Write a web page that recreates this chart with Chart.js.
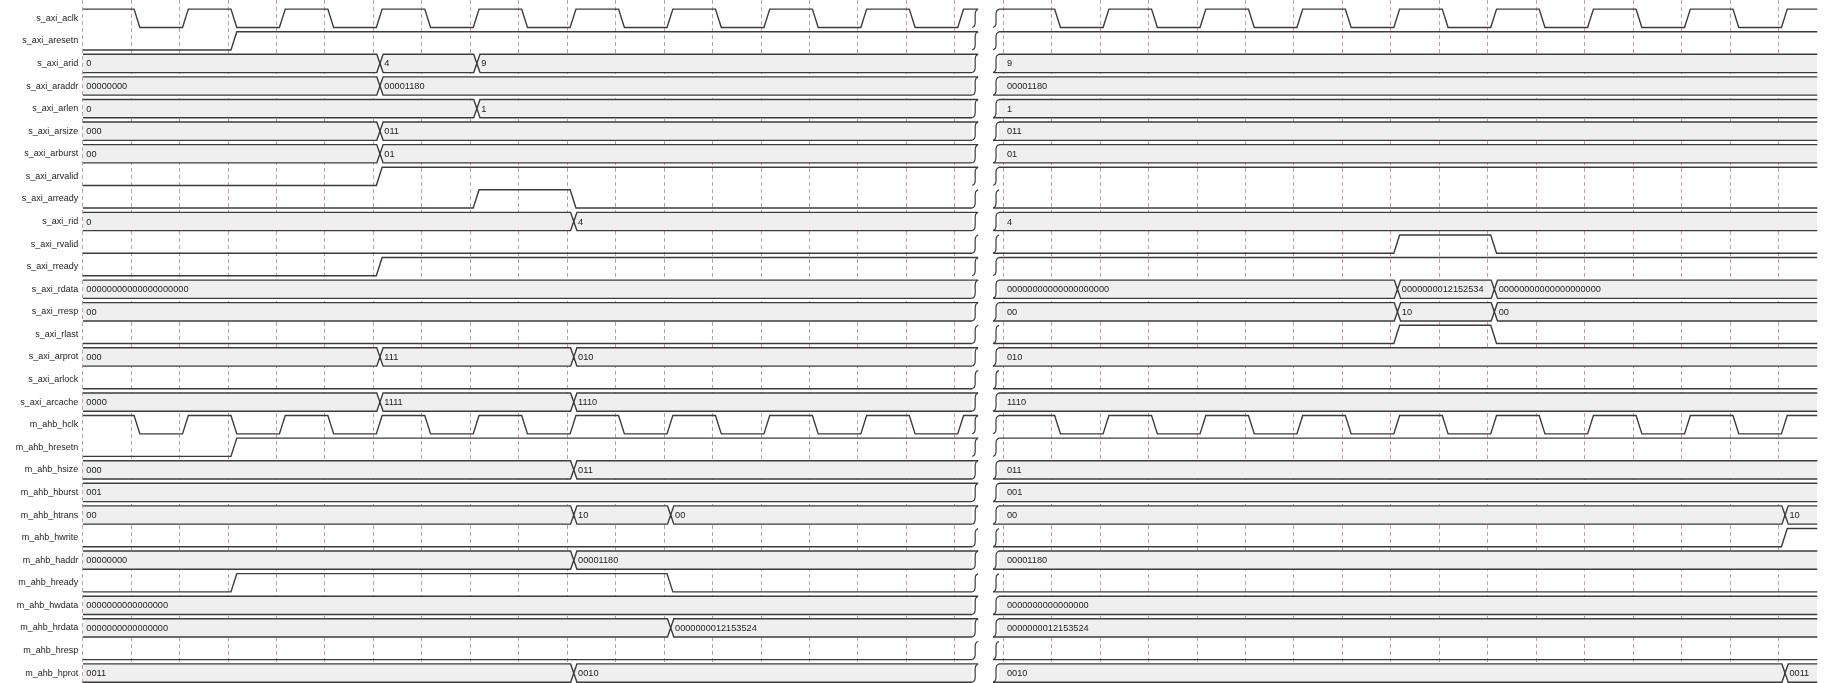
<!DOCTYPE html>
<html lang="en">
<head>
<meta charset="UTF-8">
<title>AXI to AHB read waveform</title>
<script src="https://cdn.jsdelivr.net/npm/chart.js"></script>
<style>
  html, body { margin: 0; padding: 0; background: #ffffff; }
  canvas { display: block; }
</style>
</head>
<body>
<canvas id="waveChart" width="1826" height="683"></canvas>
<script>
// signals, top to bottom
const signalNames = [
  's_axi_aclk', 's_axi_aresetn', 's_axi_arid', 's_axi_araddr', 's_axi_arlen',
  's_axi_arsize', 's_axi_arburst', 's_axi_arvalid', 's_axi_arready', 's_axi_rid',
  's_axi_rvalid', 's_axi_rready', 's_axi_rdata', 's_axi_rresp', 's_axi_rlast',
  's_axi_arprot', 's_axi_arlock', 's_axi_arcache', 'm_ahb_hclk', 'm_ahb_hresetn',
  'm_ahb_hsize', 'm_ahb_hburst', 'm_ahb_htrans', 'm_ahb_hwrite', 'm_ahb_haddr',
  'm_ahb_hready', 'm_ahb_hwdata', 'm_ahb_hrdata', 'm_ahb_hresp', 'm_ahb_hprot'
];
const signalTypes = [
  'clk', 'bit', 'bus', 'bus', 'bus',
  'bus', 'bus', 'bit', 'bit', 'bus',
  'bit', 'bit', 'bus', 'bus', 'bit',
  'bus', 'bit', 'bus', 'clk', 'bit',
  'bus', 'bus', 'bus', 'bit', 'bus',
  'bit', 'bus', 'bus', 'bit', 'bus'
];

// clock edges, time in half clock periods (one grid column)
const clockLeft = [[0,1],[1,0],[2,1],[3,0],[4,1],[5,0],[6,1],[7,0],[8,1],[9,0],
  [10,1],[11,0],[12,1],[13,0],[14,1],[15,0],[16,1],[17,0],[18,1]];
const clockRight = [[19,1],[20,0],[21,1],[22,0],[23,1],[24,0],[25,1],[26,0],[27,1],
  [28,0],[29,1],[30,0],[31,1],[32,0],[33,1],[34,0],[35,1]];

// [time, value] changes before the break
const leftWaves = [
  clockLeft,
  [[0,0],[3,1]],
  [[0,'0'],[6,'4'],[8,'9']],
  [[0,'00000000'],[6,'00001180']],
  [[0,'0'],[8,'1']],
  [[0,'000'],[6,'011']],
  [[0,'00'],[6,'01']],
  [[0,0],[6,1]],
  [[0,0],[8,1],[10,0]],
  [[0,'0'],[10,'4']],
  [[0,0]],
  [[0,0],[6,1]],
  [[0,'00000000000000000000']],
  [[0,'00']],
  [[0,0]],
  [[0,'000'],[6,'111'],[10,'010']],
  [[0,0]],
  [[0,'0000'],[6,'1111'],[10,'1110']],
  clockLeft,
  [[0,0],[3,1]],
  [[0,'000'],[10,'011']],
  [[0,'001']],
  [[0,'00'],[10,'10'],[12,'00']],
  [[0,0]],
  [[0,'00000000'],[10,'00001180']],
  [[0,0],[3,1],[12,0]],
  [[0,'0000000000000000']],
  [[0,'0000000000000000'],[12,'0000000012153524']],
  [[0,0]],
  [[0,'0011'],[10,'0010']]
];

// [time, value] changes after the break
const rightWaves = [
  clockRight,
  [[19,1]],
  [[19,'9']],
  [[19,'00001180']],
  [[19,'1']],
  [[19,'011']],
  [[19,'01']],
  [[19,1]],
  [[19,0]],
  [[19,'4']],
  [[19,0],[27,1],[29,0]],
  [[19,1]],
  [[19,'00000000000000000000'],[27,'0000000012152534'],[29,'00000000000000000000']],
  [[19,'00'],[27,'10'],[29,'00']],
  [[19,0],[27,1],[29,0]],
  [[19,'010']],
  [[19,0]],
  [[19,'1110']],
  clockRight,
  [[19,1]],
  [[19,'011']],
  [[19,'001']],
  [[19,'00'],[35,'10']],
  [[19,0],[35,1]],
  [[19,'00001180']],
  [[19,0]],
  [[19,'0000000000000000']],
  [[19,'0000000012153524']],
  [[19,0]],
  [[19,'0010'],[35,'0011']]
];

// the two visible time windows and the grid lines
const leftWindow = [0, 18.42];
const rightWindow = [18.85, 35.8];
const gridTimes = [0,1,2,3,4,5,6,7,8,9,10,11,12,13,14,15,16,17,18,
  19,20,21,22,23,24,25,26,27,28,29,30,31,32,33,34,35];

const LINE = '#3c3c3c';
const BUS_FILL = '#efefef';
const GRID = 'rgba(200, 104, 120, 0.7)';
const FONT = '"Liberation Sans", Arial, Helvetica, sans-serif';

const LV = 0.405;      // half height of a trace, in rows
const EDGE = 0.06;     // edge delay after grid line
const SLOPE = 0.12;    // edge width
const BUS_EDGE = 0.07;
const BUS_SLOPE = 0.13;
const CURL = 0.06;     // half width of the break mark

function bitLine(row, events, win, curlStart, curlEnd) {
  const lvl = v => v ? row - LV : row + LV;
  const cx = (x, v) => x + (v ? CURL : -CURL);
  let v = events[0][1];
  const pts = [{x: curlStart ? cx(win[0], v) : win[0], y: lvl(v)}];
  for (let i = 1; i < events.length; i++) {
    const t = events[i][0];
    pts.push({x: t + EDGE, y: lvl(v)});
    v = events[i][1];
    pts.push({x: t + EDGE + SLOPE, y: lvl(v)});
  }
  pts.push({x: curlEnd ? cx(win[1], v) : win[1], y: lvl(v)});
  return pts;
}

function busEdge(row, events, win, side, curlStart, curlEnd) {
  const y = row + side * LV;
  const off = side < 0 ? CURL : -CURL;
  const pts = [{x: curlStart ? win[0] + off : win[0], y: y}];
  for (let i = 1; i < events.length; i++) {
    const t = events[i][0];
    pts.push({x: t + BUS_EDGE, y: y});
    pts.push({x: t + BUS_EDGE + BUS_SLOPE / 2, y: row});
    pts.push({x: t + BUS_EDGE + BUS_SLOPE, y: y});
  }
  pts.push({x: curlEnd ? win[1] + off : win[1], y: y});
  return pts;
}

// integral-sign shaped break mark
function curlMark(row, x) {
  return [
    {x: x + CURL, y: row - LV},
    {x: x + CURL * 0.2, y: row - LV * 0.78},
    {x: x, y: row - LV * 0.3},
    {x: x, y: row + LV * 0.3},
    {x: x - CURL * 0.2, y: row + LV * 0.78},
    {x: x - CURL, y: row + LV}
  ];
}

const base = {borderColor: LINE, borderWidth: 1.4, pointRadius: 0, tension: 0, fill: false, order: 1};
const datasets = [];

signalTypes.forEach((type, row) => {
  const parts = [
    {events: leftWaves[row], win: leftWindow, cs: false, ce: true},
    {events: rightWaves[row], win: rightWindow, cs: true, ce: false}
  ];
  parts.forEach(p => {
    if (type === 'bus') {
      datasets.push({...base, data: busEdge(row, p.events, p.win, -1, p.cs, p.ce)});
      datasets.push({...base, data: busEdge(row, p.events, p.win, 1, p.cs, p.ce),
        fill: '-1', backgroundColor: BUS_FILL});
    } else {
      datasets.push({...base, data: bitLine(row, p.events, p.win, p.cs, p.ce)});
    }
  });
  datasets.push({...base, borderWidth: 1.2, tension: 0.5, order: 0, data: curlMark(row, leftWindow[1])});
  datasets.push({...base, borderWidth: 1.2, tension: 0.5, order: 0, data: curlMark(row, rightWindow[0])});
});

// values written inside the bus traces
const busLabels = {
  id: 'busLabels',
  afterDatasetsDraw(chart) {
    const {ctx, scales: {x, y}} = chart;
    ctx.save();
    ctx.font = '9.2px ' + FONT;
    ctx.fillStyle = '#222222';
    ctx.textBaseline = 'middle';
    ctx.textAlign = 'left';
    signalTypes.forEach((type, row) => {
      if (type !== 'bus') return;
      [leftWaves[row], rightWaves[row]].forEach(events => {
        events.forEach(([t, text], i) => {
          const at = i === 0 ? t + 0.075 : t + BUS_EDGE + BUS_SLOPE + 0.025;
          ctx.fillText(text, x.getPixelForValue(at), y.getPixelForValue(row) + 0.5);
        });
      });
    });
    ctx.restore();
  }
};

new Chart(document.getElementById('waveChart'), {
  type: 'line',
  data: {datasets: datasets},
  options: {
    responsive: false,
    animation: false,
    events: [],
    layout: {padding: 0},
    plugins: {legend: {display: false}, tooltip: {enabled: false}},
    scales: {
      x: {
        type: 'linear',
        min: 0,
        max: 35.98,
        afterBuildTicks: s => { s.ticks = gridTimes.map(v => ({value: v})); },
        afterFit: s => { s.height = 0; s.paddingLeft = 0; s.paddingRight = 0; },
        grid: {color: GRID, lineWidth: 1, drawTicks: false},
        border: {display: false, dash: [4, 3]},
        ticks: {display: false}
      },
      y: {
        type: 'linear',
        reverse: true,
        min: -0.81,
        max: 29.44,
        afterBuildTicks: s => { s.ticks = signalNames.map((n, i) => ({value: i})); },
        afterFit: s => { s.width = 82.7; s.paddingTop = 0; s.paddingBottom = 0; },
        grid: {display: false, drawTicks: false},
        border: {display: false},
        ticks: {
          autoSkip: false,
          padding: 4.5,
          color: '#222222',
          font: {family: FONT, size: 9},
          callback: v => signalNames[v]
        }
      }
    }
  },
  plugins: [busLabels]
});
</script>
</body>
</html>
